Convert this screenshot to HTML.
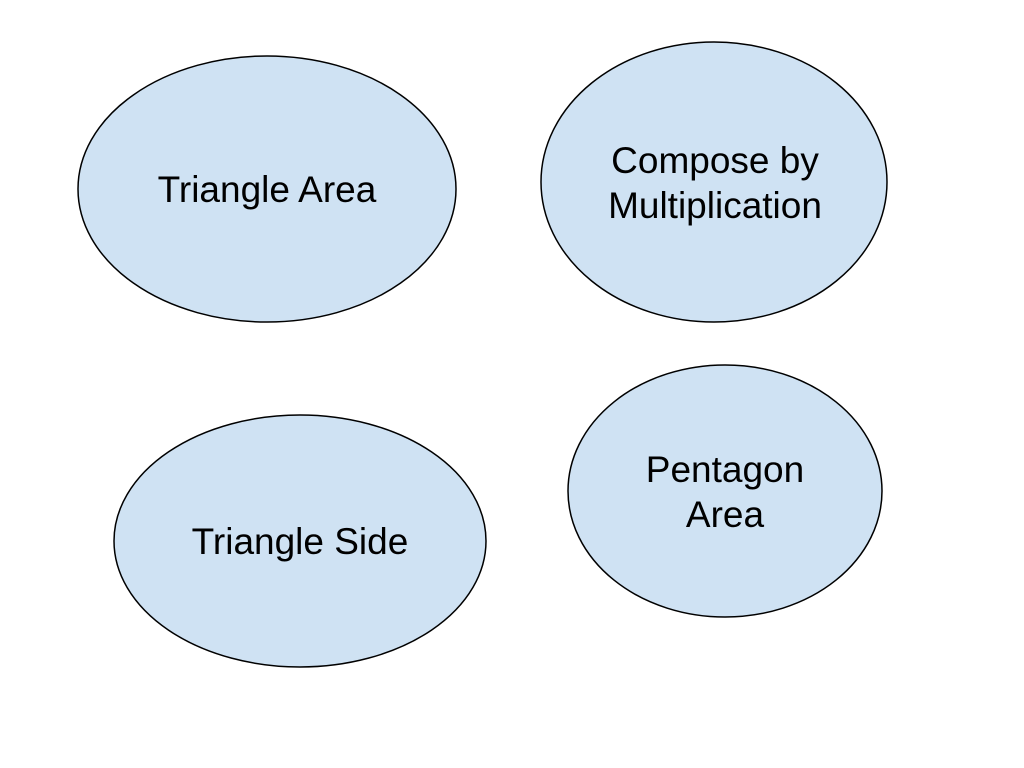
<!DOCTYPE html>
<html><head><style>html,body{margin:0;padding:0;background:#fff;}svg{display:block}</style></head>
<body>
<svg width="1024" height="768" xmlns="http://www.w3.org/2000/svg" font-family="Liberation Sans, sans-serif" font-size="37" fill="#000">
<g fill="#cfe2f3" stroke="#000" stroke-width="1.5">
<ellipse cx="267" cy="189" rx="189" ry="133"/>
<ellipse cx="714" cy="182" rx="173" ry="140"/>
<ellipse cx="300" cy="541" rx="186" ry="126"/>
<ellipse cx="725" cy="491" rx="157" ry="126"/>
</g>
<g text-anchor="middle" fill="#000">
<text x="267" y="202">Triangle Area</text>
<text x="715" y="173">Compose by</text>
<text x="715" y="218">Multiplication</text>
<text x="300" y="554">Triangle Side</text>
<text x="725" y="482">Pentagon</text>
<text x="725" y="527">Area</text>
</g>
</svg>
</body></html>
